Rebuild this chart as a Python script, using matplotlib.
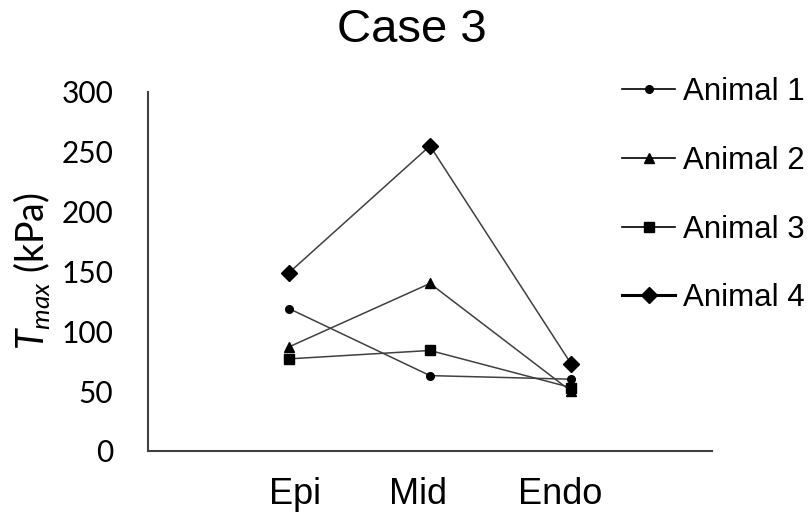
import matplotlib
matplotlib.use("Agg")
import matplotlib.pyplot as plt
import matplotlib.transforms as mtransforms
from matplotlib.lines import Line2D

categories = ["Epi", "Mid", "Endo"]
animal1 = [119, 63, 60]
animal2 = [87, 140, 50]
animal3 = [77, 84, 53]
animal4 = [149, 255, 73]
series_names = ["Animal 1", "Animal 2", "Animal 3", "Animal 4"]
yticks = [0, 50, 100, 150, 200, 250, 300]

plt.rcParams['mathtext.fontset'] = 'custom'
plt.rcParams['mathtext.rm'] = 'Lato'
plt.rcParams['mathtext.it'] = 'Lato:italic'

fig = plt.figure(figsize=(8.11, 5.14), dpi=100)
ax = fig.add_axes([148/811, 1-451/514, (712-148)/811, (451-92)/514])

series = [animal1, animal2, animal3, animal4]
markers = ['o', '^', 's', 'D']
msizes = [5.5, 7.5, 6.5, 8.5]
x = list(range(len(categories)))
for vals, m, ms in zip(series, markers, msizes):
    ax.plot(x, vals, color='#404040', lw=1.1, marker=m, ms=ms,
            mfc='black', mec='black', zorder=3)

ax.set_xlim(-1, 3)
ax.set_ylim(0, 300)
ax.set_xticks(x)
ax.set_xticklabels(categories, fontfamily='Liberation Sans', fontsize=26)
ax.set_yticks(yticks)
ax.set_yticklabels([str(v) for v in yticks], fontfamily='Lato', fontsize=21.5)
ax.tick_params(length=0)
ax.tick_params(axis='x', pad=19)
ax.tick_params(axis='y', pad=25)
for s in ['top', 'right']:
    ax.spines[s].set_visible(False)
for s in ['left', 'bottom']:
    ax.spines[s].set_color('#404040')
    ax.spines[s].set_linewidth(1.5)

# small horizontal label offsets (pixels) as in the reference rendering
offsets_px = [6, -12, -11]
for lab, dx in zip(ax.get_xticklabels(), offsets_px):
    lab.set_transform(lab.get_transform() +
                      mtransforms.ScaledTranslation(dx / 100, 0, fig.dpi_scale_trans))

fig.text(31/811, 1-271/514, r"$T_{max}$ (kPa)", fontfamily='Lato', fontsize=27,
         rotation=90, ha='center', va='center')

fig.suptitle("Case 3", fontfamily='Liberation Sans', fontsize=34, x=412/811, y=1-8/514, va='top')

handles = []
for m, ms, lw in zip(markers, msizes, [1.2, 1.2, 1.2, 2.2]):
    handles.append(Line2D([0], [0], color='black', lw=lw, marker=m, ms=ms,
                          mfc='black', mec='black'))
leg = fig.legend(handles, series_names, loc='upper left',
                 bbox_to_anchor=(622/811, 1-77/514), frameon=False,
                 prop={'family': 'Liberation Sans', 'size': 22.5},
                 handlelength=1.7, handletextpad=0.25, labelspacing=1.24,
                 borderaxespad=0, borderpad=0)

fig.savefig("out.png", dpi=100)
